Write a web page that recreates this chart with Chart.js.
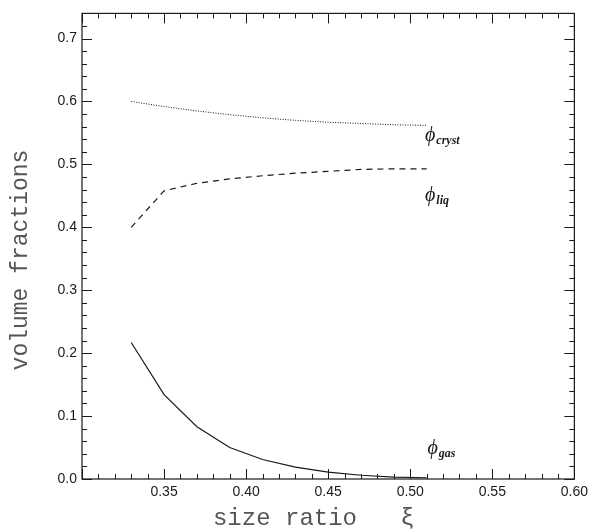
<!DOCTYPE html>
<html>
<head>
<meta charset="utf-8">
<script src="https://cdn.jsdelivr.net/npm/chart.js@4.4.0/dist/chart.umd.min.js"></script>
<style>
  html, body { margin: 0; padding: 0; background: #fff; }
  #wrap { width: 593px; height: 531px; }
</style>
</head>
<body>
<div id="wrap"><canvas id="phaseChart" width="593" height="531"></canvas></div>
<script>
const sizeRatio = [0.33, 0.35, 0.37, 0.39, 0.41, 0.43, 0.45, 0.47, 0.49, 0.51];
const phiCryst = [0.600, 0.592, 0.585, 0.579, 0.574, 0.570, 0.567, 0.565, 0.563, 0.562];
const phiLiq = [0.400, 0.458, 0.470, 0.477, 0.482, 0.486, 0.489, 0.492, 0.493, 0.493];
const phiGas = [0.217, 0.134, 0.083, 0.050, 0.031, 0.019, 0.011, 0.006, 0.003, 0.002];

const ink = '#1a1a1a';
const toPoints = ys => sizeRatio.map((x, i) => ({ x: x, y: ys[i] }));

// inward ticks on all four sides + frame
const frameTicks = {
  id: 'frameTicks',
  afterDraw(chart) {
    const { ctx, chartArea: a, scales: { x, y } } = chart;
    ctx.save();
    ctx.strokeStyle = ink;
    ctx.lineWidth = 1.2;
    ctx.strokeRect(a.left, a.top, a.right - a.left, a.bottom - a.top);
    ctx.lineWidth = 1;
    for (let k = 30; k <= 60; k++) {
      const px = Math.round(x.getPixelForValue(k / 100)) + 0.5;
      const len = k % 5 === 0 ? 10 : 5;
      ctx.beginPath();
      ctx.moveTo(px, a.bottom); ctx.lineTo(px, a.bottom - len);
      ctx.moveTo(px, a.top); ctx.lineTo(px, a.top + len);
      ctx.stroke();
    }
    for (let k = 0; k <= 74; k += 2) {
      const py = Math.round(y.getPixelForValue(k / 100)) + 0.5;
      const len = k % 10 === 0 ? 10 : 5;
      ctx.beginPath();
      ctx.moveTo(a.left, py); ctx.lineTo(a.left + len, py);
      ctx.moveTo(a.right, py); ctx.lineTo(a.right - len, py);
      ctx.stroke();
    }
    ctx.restore();
  }
};

// curve labels phi_cryst, phi_liq, phi_gas
const curveLabels = {
  id: 'curveLabels',
  afterDraw(chart) {
    const { ctx, scales: { x, y } } = chart;
    const items = [
      { sub: 'cryst', x: 0.509, y: 0.537 },
      { sub: 'liq', x: 0.509, y: 0.442 },
      { sub: 'gas', x: 0.5105, y: 0.039 }
    ];
    ctx.save();
    ctx.fillStyle = ink;
    ctx.textBaseline = 'alphabetic';
    items.forEach(it => {
      const px = x.getPixelForValue(it.x);
      const py = y.getPixelForValue(it.y);
      ctx.font = 'italic 20px "Liberation Serif", serif';
      ctx.fillText('\u03D5', px, py);
      const w = ctx.measureText('\u03D5').width;
      ctx.font = 'italic bold 12px "Liberation Serif", serif';
      ctx.fillText(it.sub, px + w + 1, py + 3);
    });
    ctx.restore();
  }
};

const lineStyle = {
  borderColor: ink,
  pointRadius: 0,
  fill: false,
  tension: 0
};

new Chart(document.getElementById('phaseChart').getContext('2d'), {
  type: 'line',
  data: {
    datasets: [
      Object.assign({ label: 'cryst', data: toPoints(phiCryst), borderWidth: 1, borderDash: [1, 1.5] }, lineStyle),
      Object.assign({ label: 'liq', data: toPoints(phiLiq), borderWidth: 1.2, borderDash: [6, 5] }, lineStyle),
      Object.assign({ label: 'gas', data: toPoints(phiGas), borderWidth: 1.2 }, lineStyle)
    ]
  },
  options: {
    responsive: false,
    animation: false,
    layout: { padding: { top: 11, right: 17, left: 0, bottom: 0 } },
    plugins: { legend: { display: false }, tooltip: { enabled: false } },
    scales: {
      x: {
        type: 'linear',
        min: 0.30,
        max: 0.60,
        grid: { display: false, drawTicks: false },
        border: { display: false },
        afterFit: s => { s.height = 52; },
        ticks: {
          stepSize: 0.05,
          padding: 5,
          color: ink,
          font: { family: '"Liberation Sans", sans-serif', size: 14 },
          maxRotation: 0,
          callback: v => (v < 0.31 ? '' : v.toFixed(2))
        },
        title: {
          display: true,
          text: 'size ratio   \u03BE  ',
          color: '#555',
          font: { family: '"Liberation Mono", monospace', size: 24, lineHeight: 1 },
          padding: { top: 0, bottom: 0 }
        }
      },
      y: {
        min: 0,
        max: 0.74,
        grid: { display: false, drawTicks: false },
        border: { display: false },
        afterFit: s => { s.width = 82; },
        ticks: {
          stepSize: 0.1,
          includeBounds: false,
          padding: 5,
          color: ink,
          font: { family: '"Liberation Sans", sans-serif', size: 14 },
          callback: v => (v > 0.71 ? '' : v.toFixed(1))
        },
        title: {
          display: true,
          text: 'volume fractions  ',
          color: '#555',
          font: { family: '"Liberation Mono", monospace', size: 23, lineHeight: 1 },
          padding: { top: 9, bottom: 0 }
        }
      }
    }
  },
  plugins: [frameTicks, curveLabels]
});
</script>
</body>
</html>
